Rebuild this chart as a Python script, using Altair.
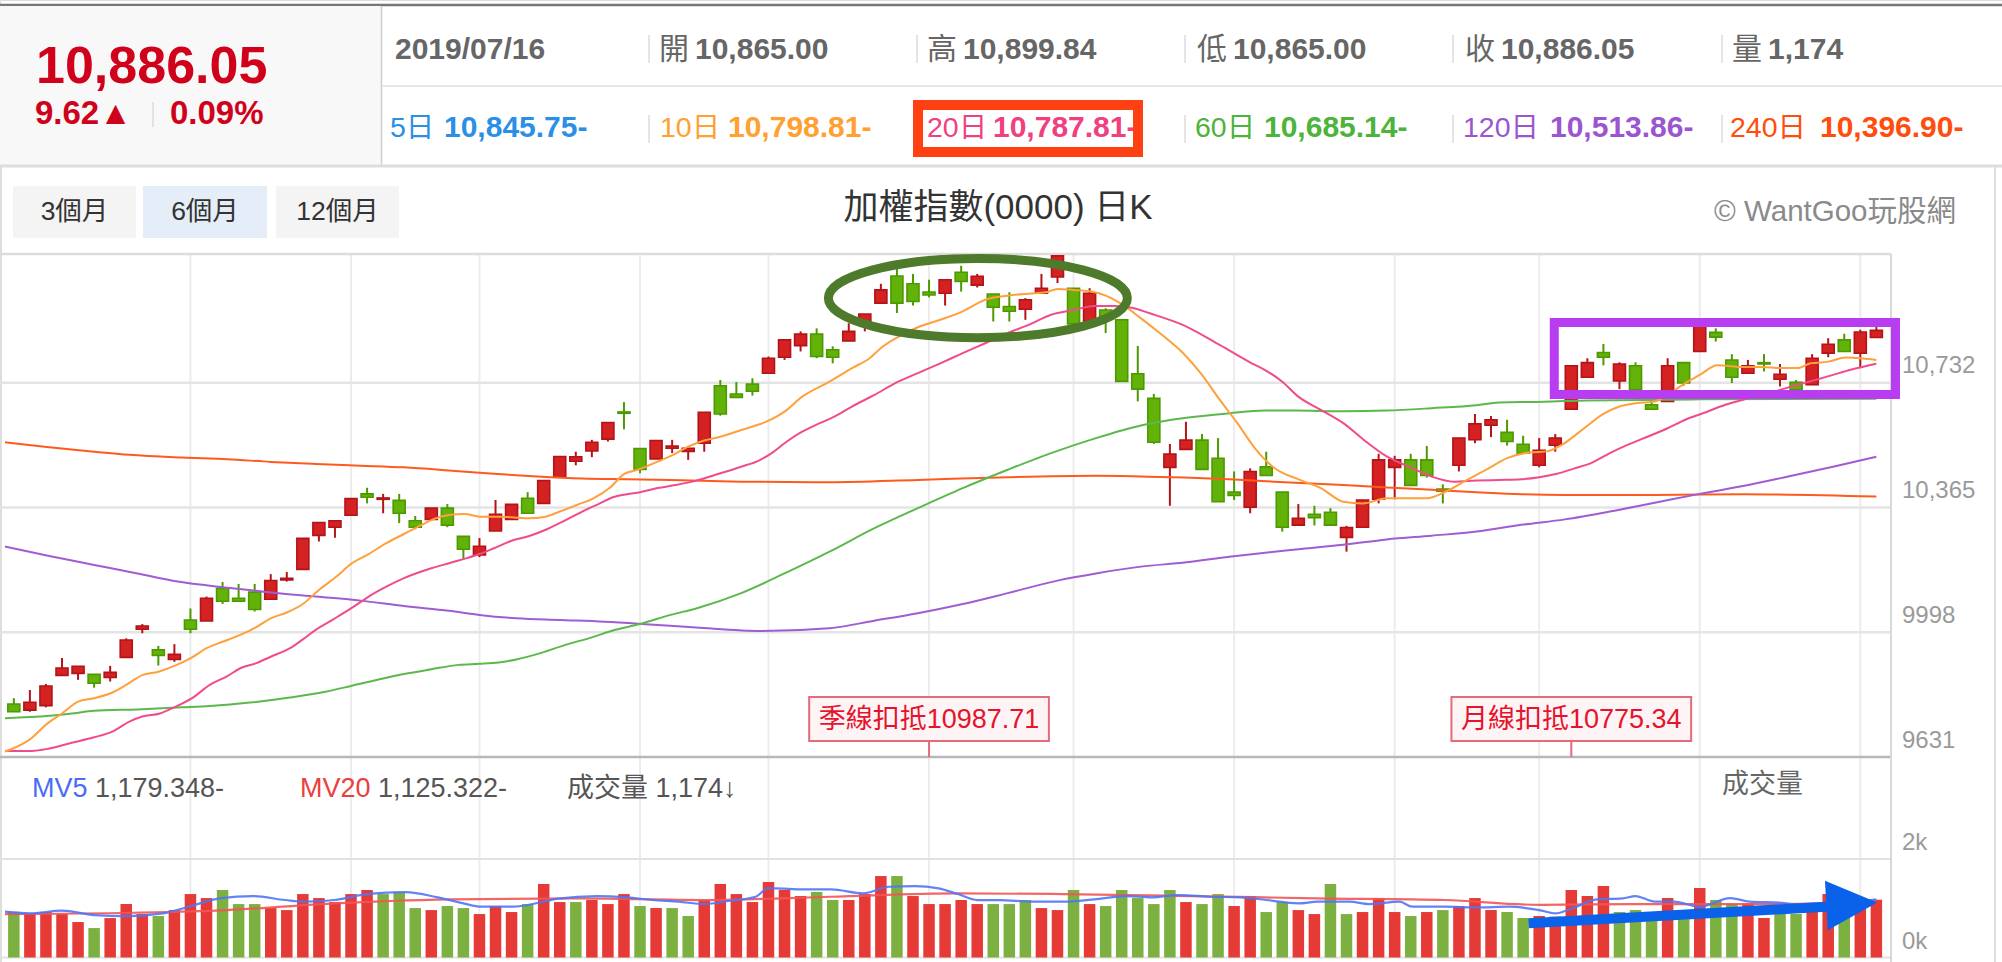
import altair as alt
import pandas as pd

FONT = '"Liberation Sans", "Noto Sans CJK TC", sans-serif'

# ---------------- values ----------------
opens = [9787, 9769, 9782, 9871, 9877, 9874, 9865, 9924, 10007, 9946,
         9918, 10034, 10031, 10127, 10098, 10116, 10095, 10152, 10183, 10283,
         10307, 10342, 10405, 10389, 10386, 10326, 10330, 10363, 10280, 10225,
         10296, 10330, 10392, 10377, 10454, 10501, 10531, 10566, 10646, 10538,
         10508, 10539, 10530, 10554, 10723, 10699, 10728, 10760, 10807, 10841,
         10875, 10829, 10855, 10902, 10966, 11046, 11023, 10999, 10995, 11057,
         11019, 10993, 10956, 10948, 10995, 11043, 11010, 10912, 10946, 10917,
         10758, 10686, 10483, 10536, 10563, 10510, 10410, 10366, 10485, 10410,
         10313, 10345, 10351, 10277, 10307, 10389, 10483, 10505, 10505, 10419,
         10489, 10564, 10607, 10586, 10551, 10489, 10548, 10654, 10748, 10821,
         10737, 10782, 10667, 10677, 10791, 10824, 10880, 10799, 10760, 10791,
         10742, 10733, 10726, 10819, 10858, 10819, 10865.00]
highs = [9804, 9828, 9846, 9922, 9898, 9874, 9899, 9980, 10022, 9958,
         9963, 10068, 10103, 10146, 10140, 10140, 10169, 10175, 10274, 10321,
         10326, 10391, 10423, 10405, 10405, 10340, 10363, 10375, 10280, 10275,
         10387, 10374, 10410, 10444, 10515, 10529, 10564, 10615, 10675, 10538,
         10562, 10564, 10539, 10645, 10740, 10734, 10745, 10809, 10858, 10883,
         10892, 10839, 10907, 10934, 11023, 11069, 11052, 11035, 11035, 11076,
         11052, 10993, 10998, 10981, 11052, 11105, 11010, 11010, 10951, 10917,
         10840, 10699, 10552, 10617, 10581, 10569, 10471, 10480, 10529, 10410,
         10375, 10370, 10363, 10311, 10387, 10523, 10517, 10523, 10546, 10433,
         10569, 10640, 10634, 10623, 10576, 10569, 10581, 10782, 10804, 10846,
         10792, 10792, 10691, 10804, 10791, 10899, 10892, 10816, 10799, 10816,
         10787, 10740, 10816, 10863, 10876, 10888, 10899.84]
lows = [9764, 9764, 9777, 9871, 9858, 9835, 9853, 9924, 9995, 9900,
        9911, 9995, 10031, 10081, 10089, 10059, 10095, 10147, 10183, 10265,
        10276, 10342, 10377, 10348, 10319, 10301, 10330, 10307, 10213, 10219,
        10296, 10330, 10348, 10377, 10454, 10489, 10513, 10559, 10595, 10466,
        10508, 10525, 10505, 10529, 10635, 10689, 10694, 10760, 10799, 10824,
        10804, 10789, 10855, 10883, 10966, 10937, 10959, 10983, 10959, 11000,
        11012, 10912, 10912, 10917, 10995, 11025, 10902, 10912, 10878, 10736,
        10677, 10552, 10370, 10536, 10477, 10382, 10387, 10348, 10459, 10294,
        10313, 10312, 10313, 10235, 10307, 10377, 10389, 10430, 10453, 10377,
        10471, 10554, 10572, 10547, 10525, 10483, 10529, 10654, 10748, 10783,
        10713, 10711, 10654, 10677, 10723, 10824, 10853, 10731, 10760, 10765,
        10721, 10711, 10726, 10807, 10824, 10778, 10865.00]
closes = [9764, 9792, 9840, 9893, 9898, 9848, 9880, 9975, 10016, 9930,
          9933, 10007, 10098, 10089, 10089, 10065, 10150, 10157, 10274, 10321,
          10326, 10391, 10395, 10393, 10348, 10307, 10363, 10313, 10242, 10251,
          10345, 10374, 10348, 10444, 10515, 10514, 10557, 10615, 10642, 10477,
          10562, 10546, 10539, 10645, 10640, 10689, 10707, 10804, 10858, 10875,
          10809, 10807, 10883, 10934, 11005, 10966, 10971, 10990, 11035, 11030,
          11045, 10954, 10942, 10976, 11010, 11105, 10905, 10995, 10927, 10736,
          10713, 10557, 10522, 10563, 10477, 10382, 10400, 10471, 10459, 10307,
          10333, 10335, 10313, 10306, 10387, 10505, 10505, 10430, 10459, 10413,
          10569, 10611, 10623, 10559, 10525, 10533, 10569, 10782, 10791, 10807,
          10787, 10711, 10654, 10782, 10731, 10899, 10866, 10748, 10782, 10787,
          10757, 10711, 10804, 10845, 10824, 10881, 10886.05]

volumes = [930, 882, 923, 882, 720, 598, 801, 1085, 882, 842,
           963, 1288, 1207, 1370, 1085, 1085, 1004, 963, 1288, 1207,
           1126, 1288, 1370, 1288, 1336, 1004, 963, 1045, 1004, 882,
           1045, 923, 1085, 1492, 1126, 1126, 1167, 1085, 1288, 1045,
           1004, 1004, 842, 1167, 1492, 1288, 1126, 1532, 1370, 1248,
           1329, 1167, 1167, 1288, 1654, 1654, 1248, 1085, 1085, 1167,
           1085, 1085, 1085, 1167, 1004, 963, 1370, 1085, 1045, 1370,
           1207, 1085, 1370, 1126, 1085, 1288, 1045, 1248, 923, 1126,
           963, 882, 1492, 882, 923, 1207, 923, 842, 923, 963,
           1045, 1207, 964, 924, 802, 843, 830, 1370, 1249, 1452,
           924, 964, 900, 1208, 900, 1411, 1167, 1086, 1100, 802,
           924, 883, 1032, 1289, 903, 1167, 1174]
# R = red (up), G = green (down), one letter per bar
volume_colors = ("GRRRRGRRRG" "RRRGGGRRRR" "RRRGGGRGGR" "RRGRRGRRRG" "RGGRRRRRRR"
                 "GGRRRGRRRR" "RGGGRRGRGG" "GGGRGGRRGG" "RRGGRRRGRG" "RRRGGRRRRR"
                 "GGGRGRGGRR" "GGRRGRR")

ma10 = [(-0.55, 9647), (1.0, 9683), (2.1, 9730), (3.0, 9759), (4.0, 9794), (5.0, 9804), (6.1, 9820),
        (7.0, 9843), (8.0, 9872), (9.0, 9882), (10.0, 9899), (11.1, 9924), (12.0, 9951), (13.0, 9970),
        (14.1, 9990), (15.1, 10013), (16.0, 10039), (17.0, 10056), (18.0, 10081), (19.0, 10122),
        (20.1, 10162), (21.0, 10199), (22.1, 10228), (23.2, 10260), (24.3, 10287), (25.4, 10314),
        (26.1, 10330), (27.1, 10343), (28.1, 10346), (29.0, 10338), (30.2, 10338), (31.0, 10336),
        (32.1, 10333), (33.1, 10338), (34.0, 10353), (35.1, 10373), (36.1, 10392), (37.1, 10422),
        (38.0, 10463), (39.0, 10478), (40.1, 10500), (41.0, 10518), (42.0, 10544), (43.0, 10562),
        (44.0, 10573), (45.3, 10593), (46.9, 10618), (48.0, 10647), (49.1, 10691), (50.8, 10735),
        (52.2, 10775), (53.3, 10804), (54.1, 10838), (55.2, 10870), (56.3, 10895), (57.7, 10917),
        (59.1, 10942), (60.5, 10976), (61.9, 10988), (63.2, 10994), (64.3, 10998), (65.0, 11008),
        (66.0, 11005), (67.1, 11000), (68.0, 10988), (69.0, 10963), (70.1, 10925), (71.5, 10873),
        (72.8, 10820), (74.0, 10755), (75.1, 10682), (76.2, 10613), (77.3, 10539), (78.4, 10485),
        (80.1, 10446), (81.4, 10422), (82.8, 10382), (84.0, 10377), (85.5, 10392), (87.2, 10392),
        (88.0, 10392), (89.2, 10412), (90.5, 10446), (91.7, 10476), (93.0, 10510), (94.4, 10527),
        (95.5, 10530), (96.4, 10549), (97.8, 10598), (99.0, 10640), (100.0, 10662), (101.1, 10672),
        (102.2, 10677), (103.3, 10706), (104.1, 10731), (105.0, 10755), (106.1, 10783), (107.7, 10778),
        (108.9, 10778), (110.0, 10775), (111.1, 10775), (111.9, 10789), (113.0, 10794), (114.1, 10806),
        (115.0, 10804), (116.0, 10799)]
ma20 = [(-0.55, 9649), (1.1, 9649), (2.2, 9656), (3.6, 9673), (5.0, 9689), (6.1, 9705), (7.2, 9735),
        (8.0, 9750), (9.1, 9759), (10.0, 9777), (11.1, 9804), (12.2, 9843), (13.3, 9869), (14.1, 9892),
        (15.1, 9907), (16.0, 9926), (17.2, 9951), (18.0, 9977), (18.8, 10005), (19.9, 10036),
        (21.0, 10068), (22.1, 10103), (23.2, 10132), (24.3, 10157), (26.0, 10186), (27.1, 10201),
        (28.2, 10216), (29.0, 10228), (29.9, 10245), (31.0, 10267), (32.1, 10281), (33.2, 10301),
        (34.3, 10326), (35.4, 10353), (36.5, 10377), (37.3, 10395), (38.2, 10404), (39.0, 10410),
        (40.1, 10422), (41.2, 10431), (42.5, 10444), (43.9, 10464), (45.3, 10485), (46.4, 10503),
        (47.2, 10525), (48.0, 10554), (49.1, 10588), (50.2, 10613), (51.1, 10632), (52.2, 10662),
        (53.6, 10696), (54.9, 10731), (56.3, 10760), (57.7, 10789), (59.1, 10819), (60.5, 10848),
        (61.9, 10878), (63.2, 10902), (64.6, 10932), (66.0, 10946), (67.3, 10958), (68.5, 10958),
        (69.7, 10952), (70.7, 10937), (72.8, 10902), (75.1, 10843), (77.1, 10789), (77.9, 10770),
        (79.0, 10735), (80.0, 10691), (81.4, 10652), (82.8, 10613), (84.2, 10559), (85.5, 10515),
        (86.9, 10485), (88.3, 10456), (89.7, 10441), (91.1, 10444), (92.5, 10446), (93.9, 10448),
        (95.0, 10454), (96.1, 10464), (97.2, 10480), (98.3, 10497), (99.4, 10525), (100.5, 10549),
        (101.9, 10576), (103.0, 10598), (104.1, 10623), (105.2, 10642), (106.6, 10667), (107.7, 10682),
        (108.9, 10696), (110.0, 10711), (111.1, 10726), (112.2, 10740), (113.3, 10755), (114.4, 10770),
        (116.0, 10788)]
ma60 = [(-0.55, 9745), (2.2, 9752), (3.6, 9759), (5.0, 9767), (7.7, 9771), (10.5, 9777), (12.2, 9781),
        (14.7, 9791), (17.2, 9806), (19.4, 9823), (21.0, 9840), (23.0, 9862), (24.3, 9875), (26.0, 9889),
        (27.7, 9902), (29.0, 9905), (30.2, 9909), (31.3, 9918), (32.9, 9938), (34.3, 9960), (36.0, 9983),
        (37.3, 10003), (39.0, 10022), (40.9, 10049), (42.5, 10068), (45.3, 10113), (48.0, 10171),
        (50.8, 10235), (53.6, 10304), (56.3, 10363), (59.1, 10422), (61.9, 10476), (64.6, 10525),
        (67.4, 10569), (70.2, 10606), (72.9, 10628), (75.7, 10642), (77.9, 10650), (79.8, 10650),
        (82.8, 10648), (85.5, 10650), (88.3, 10657), (91.1, 10666), (92.5, 10674), (95.3, 10676),
        (98.0, 10680), (105.0, 10683), (116.0, 10685)]
ma120 = [(-0.55, 10250), (2.2, 10222), (5.0, 10196), (7.7, 10171), (10.2, 10147), (13.3, 10129),
         (16.0, 10115), (18.8, 10103), (21.6, 10091), (24.3, 10075), (27.1, 10061), (29.0, 10049),
         (31.3, 10039), (34.0, 10034), (36.8, 10029), (39.6, 10021), (42.5, 10012), (46.6, 10002),
         (50.8, 10010), (53.6, 10032), (56.3, 10054), (59.1, 10081), (61.9, 10113), (65.2, 10152),
         (67.4, 10171), (70.2, 10191), (72.9, 10203), (75.7, 10220), (78.5, 10235), (80.0, 10242),
         (82.8, 10255), (85.5, 10271), (88.3, 10282), (91.1, 10294), (93.9, 10314), (96.6, 10330),
         (99.4, 10353), (102.2, 10379), (105.0, 10405), (107.7, 10428), (110.5, 10456), (113.3, 10485),
         (116.0, 10514)]
ma240 = [(-0.55, 10557), (2.2, 10542), (5.0, 10529), (7.2, 10520), (10.5, 10512), (13.3, 10507),
         (16.0, 10499), (18.8, 10493), (21.6, 10488), (24.3, 10483), (27.1, 10474), (29.9, 10464),
         (32.6, 10456), (35.4, 10450), (38.2, 10448), (40.9, 10446), (45.3, 10441), (50.8, 10439),
         (56.3, 10446), (61.9, 10454), (67.4, 10458), (70.2, 10456), (72.9, 10453), (75.7, 10448),
         (78.5, 10441), (82.8, 10431), (85.5, 10424), (88.3, 10417), (91.1, 10410), (93.9, 10404),
         (96.6, 10402), (102.2, 10402), (107.7, 10404), (116.0, 10397)]
mv5 = [(-0.55, 930), (1.0, 896), (3.0, 950), (5.0, 862), (7.0, 842), (9.3, 896), (10.9, 1031),
       (12.9, 1207), (14.9, 1248), (16.9, 1167), (18.1, 1133), (20.0, 1167), (21.6, 1268), (23.2, 1316),
       (24.4, 1329), (26.4, 1221), (28.0, 1099), (29.1, 1031), (31.1, 1031), (32.7, 1112), (33.9, 1194),
       (36.3, 1248), (38.2, 1221), (39.8, 1167), (41.4, 1133), (43.0, 1085), (44.6, 1153), (46.2, 1234),
       (47.0, 1410), (48.9, 1383), (50.9, 1383), (52.9, 1302), (54.5, 1437), (56.1, 1451), (57.6, 1404),
       (58.8, 1288), (60.0, 1167), (61.4, 1167), (63.4, 1133), (65.4, 1133), (67.3, 1180), (69.3, 1248),
       (70.9, 1221), (72.5, 1268), (74.5, 1234), (76.4, 1221), (78.0, 1167), (80.0, 1099), (81.2, 1133),
       (83.2, 1133), (84.4, 1085), (86.3, 1133), (87.1, 1031), (89.1, 1031), (91.1, 1018), (93.1, 1031),
       (95.0, 963), (96.0, 896), (97.0, 991), (98.6, 1180), (100.2, 1201), (101.0, 1248), (102.2, 1133),
       (103.4, 1133), (105.0, 1031), (106.9, 1207), (108.1, 1133), (110.1, 1112), (112.1, 1031),
       (114.1, 1099), (116.0, 1179)]
mv20 = [(-0.55, 882), (7.4, 909), (13.3, 963), (19.2, 1085), (27.2, 1180), (35.1, 1201), (43.0, 1167),
        (50.9, 1234), (58.8, 1302), (65.4, 1288), (73.3, 1248), (81.2, 1201), (89.1, 1167), (95.0, 1070),
        (101.0, 1085), (108.9, 1085), (116.0, 1125)]

price_ticks = [10732, 10365, 9998, 9631]
price_tick_labels = ["10,732", "10,365", "9998", "9631"]
vol_ticks = [2000, 0]
vol_tick_labels = ["2k", "0k"]
grid_idx = [11, 21, 29, 39, 47, 57, 66, 76, 86, 95, 105, 115]
deduct_idx = [57, 97]
deduct_labels = ["季線扣抵10987.71", "月線扣抵10775.34"]

last_price = "10,886.05"
change_txt = "9.62▲"
change_pct = "0.09%"
row1_labels = ["開", "高", "低", "收", "量"]
row1_values = ["10,865.00", "10,899.84", "10,865.00", "10,886.05", "1,174"]
date_txt = "2019/07/16"
row2_labels = ["5日", "10日", "20日", "60日", "120日", "240日"]
row2_values = ["10,845.75-", "10,798.81-", "10,787.81-", "10,685.14-", "10,513.86-", "10,396.90-"]
buttons = ["3個月", "6個月", "12個月"]
title_txt = "加權指數(0000) 日K"
brand_txt = "© WantGoo玩股網"
vol_legend = [("MV5", "1,179.348-"), ("MV20", "1,125.322-")]
vol_now = "成交量 1,174↓"
vol_title = "成交量"

# annotation geometry in data units
ellipse_center = (60.04, 10981)
box_range = (95.94, 117.19, 10909, 10697)
arrow_shaft = (94.34, 694, 113.4, 1040)
arrow_head = (114.47, 1086)

# ---------------- scales ----------------
def xq(f):
    return alt.X(f + ':Q', scale=alt.Scale(domain=[-0.55, 116.6], range=[0, 1891], nice=False, zero=False), axis=None)

def pq(f):
    return alt.Y(f + ':Q', scale=alt.Scale(domain=[9631, 11110.6], range=[757, 254], nice=False, zero=False), axis=None)

def vq(f):
    return alt.Y(f + ':Q', scale=alt.Scale(domain=[0, 2000], range=[957.5, 859], nice=False, zero=False), axis=None)

one = pd.DataFrame({'k': [0]})

def txt(s, x, y, size, color, weight='normal', align='left'):
    return alt.Chart(pd.DataFrame({'t': [s]})).mark_text(
        font=FONT, fontSize=size, color=color, fontWeight=weight, align=align, baseline='middle'
    ).encode(x=alt.value(x), y=alt.value(y), text='t:N')

def seg(x1, y1, x2, y2, color, sw):
    return alt.Chart(one).mark_rule(color=color, strokeWidth=sw).encode(
        x=alt.value(x1), y=alt.value(y1), x2=alt.value(x2), y2=alt.value(y2))

def box(x1, y1, x2, y2, fill, stroke=None, sw=0, fill_op=1):
    kw = dict(fill=fill, fillOpacity=fill_op)
    if stroke:
        kw.update(stroke=stroke, strokeWidth=sw)
    return alt.Chart(one).mark_rect(**kw).encode(
        x=alt.value(x1), x2=alt.value(x2), y=alt.value(y1), y2=alt.value(y2))

layers = []

# ---------------- header ----------------
layers.append(seg(0, 5, 2002, 5, '#777777', 2.5))
layers.append(box(0, 6, 381, 166, '#f8f8f8'))
layers.append(seg(381.5, 6, 381.5, 166, '#cfcfcf', 1.5))
layers.append(seg(382, 86, 2002, 86, '#e6e6e6', 2))
layers.append(seg(0, 166, 2002, 166, '#dddddd', 3))
layers.append(txt(last_price, 36, 67, 52, '#d0021b', 'bold'))
layers.append(txt(change_txt, 35, 114, 33, '#d0021b', 'bold'))
layers.append(seg(153, 102, 153, 127, '#dddddd', 1.5))
layers.append(txt(change_pct, 170, 114, 33, '#d0021b', 'bold'))

col_x = [395, 660, 928, 1198, 1466, 1733]
for sx in [649, 917, 1185, 1453, 1722]:
    layers.append(seg(sx, 35, sx, 63, '#dddddd', 1.5))
    layers.append(seg(sx, 115, sx, 143, '#dddddd', 1.5))
layers.append(txt(date_txt, col_x[0], 50, 30, '#666666', 'bold'))
for k, (lab, val) in enumerate(zip(row1_labels, row1_values)):
    layers.append(txt(lab, col_x[k + 1] - 1, 50, 30, '#666666'))
    layers.append(txt(val, col_x[k + 1] + 35, 50, 30, '#666666', 'bold'))

row2_colors = ['#2b8fe6', '#ffa030', '#f0407f', '#4cb43a', '#9b55d0', '#ff4d0d']
row2_lab_x = [390, 660, 927, 1195, 1463, 1730]
row2_val_x = [444, 728, 993, 1264, 1550, 1820]
for lab, val, c, lx, vx in zip(row2_labels, row2_values, row2_colors, row2_lab_x, row2_val_x):
    layers.append(txt(lab, lx, 128, 28.5, c))
    layers.append(txt(val, vx, 128, 30, c, 'bold'))
layers.append(box(918, 105, 1138, 152, 'white', '#ff4012', 10, 0))

# ---------------- toolbar & title ----------------
layers.append(seg(1, 166, 1, 962, '#dddddd', 2))
layers.append(seg(1995, 166, 1995, 962, '#dddddd', 2))
btn_x = [(13, 136), (143, 267), (276, 399)]
btn_bg = ['#f4f4f4', '#e5eef8', '#f4f4f4']
for (bx1, bx2), bg, lab in zip(btn_x, btn_bg, buttons):
    layers.append(box(bx1, 186, bx2, 238, bg))
    layers.append(txt(lab, (bx1 + bx2) / 2, 212, 26.5, '#333333', align='center'))
layers.append(txt(title_txt, 998, 208, 35, '#333333', align='center'))
layers.append(txt(brand_txt, 1956, 212, 29.5, '#8a8a8a', align='right'))

# ---------------- grid ----------------
layers.append(alt.Chart(pd.DataFrame({'i': grid_idx})).mark_rule(color='#ececec', strokeWidth=2).encode(
    x=xq('i'), y=alt.value(254), y2=alt.value(957)))
pt = pd.DataFrame({'v': price_ticks, 'lab': price_tick_labels})
layers.append(alt.Chart(pt.iloc[:3]).mark_rule(color='#e4e4e4', strokeWidth=2.5).encode(
    y=pq('v'), x=alt.value(0), x2=alt.value(1891)))
layers.append(alt.Chart(pt.iloc[3:]).mark_rule(color='#b8b8b8', strokeWidth=2.5).encode(
    y=pq('v'), x=alt.value(0), x2=alt.value(1891)))
layers.append(alt.Chart(pt).mark_text(font=FONT, fontSize=24, color='#9a9a9a', align='left',
                                      baseline='middle', dy=-16.5).encode(
    x=alt.value(1902), y=pq('v'), text='lab:N'))
vt = pd.DataFrame({'v': vol_ticks, 'lab': vol_tick_labels})
layers.append(alt.Chart(vt).mark_rule(color='#e2e2e2', strokeWidth=2).encode(
    y=vq('v'), x=alt.value(0), x2=alt.value(1891)))
layers.append(alt.Chart(vt).mark_text(font=FONT, fontSize=24, color='#9a9a9a', align='left',
                                      baseline='middle', dy=-16).encode(
    x=alt.value(1902), y=vq('v'), text='lab:N'))
layers.append(seg(0, 254, 1891, 254, '#dcdcdc', 2.5))
layers.append(seg(1891, 254, 1891, 962, '#d8d8d8', 2))

# ---------------- candles ----------------
cd = pd.DataFrame({'i': list(range(len(opens))), 'open': opens, 'high': highs, 'low': lows, 'close': closes})
cd['dir'] = ['up' if c >= o else 'down' for o, c in zip(opens, closes)]
up = alt.datum.dir == 'up'
layers.append(alt.Chart(cd).mark_rule(strokeWidth=2).encode(
    x=xq('i'), y=pq('low'), y2='high:Q',
    color=alt.condition(up, alt.value('#b3141a'), alt.value('#4c9a00'))))
layers.append(alt.Chart(cd).mark_bar(size=12, strokeWidth=1.6).encode(
    x=xq('i'), y=pq('open'), y2='close:Q',
    fill=alt.condition(up, alt.value('#d42121'), alt.value('#62b20a')),
    stroke=alt.condition(up, alt.value('#b3141a'), alt.value('#4c9a00'))))

# ---------------- moving averages ----------------
for series, color in [(ma240, '#ff5a1e'), (ma120, '#a05cd2'), (ma60, '#5cb84c'),
                      (ma20, '#f04b8c'), (ma10, '#ffa03c')]:
    df = pd.DataFrame(series, columns=['i', 'v'])
    layers.append(alt.Chart(df).mark_line(color=color, strokeWidth=2, interpolate='monotone').encode(
        x=xq('i'), y=pq('v')))

# ---------------- volume ----------------
vd = pd.DataFrame({'i': list(range(len(volumes))), 'vol': volumes,
                   'dir': ['up' if c == 'R' else 'down' for c in volume_colors]})
layers.append(alt.Chart(vd).mark_bar(size=11.5).encode(
    x=xq('i'), y=vq('vol'),
    color=alt.condition(up, alt.value('#e53a35'), alt.value('#7cb142'))))
for series, color in [(mv20, '#f25555'), (mv5, '#5075f5')]:
    df = pd.DataFrame(series, columns=['i', 'v'])
    layers.append(alt.Chart(df).mark_line(color=color, strokeWidth=2.2, opacity=0.9,
                                          interpolate='monotone').encode(x=xq('i'), y=vq('v')))

layers.append(txt(vol_legend[0][0], 32, 789, 27, '#4a6cf5'))
layers.append(txt(vol_legend[0][1], 95, 789, 27, '#555555'))
layers.append(txt(vol_legend[1][0], 300, 789, 27, '#e94040'))
layers.append(txt(vol_legend[1][1], 378, 789, 27, '#555555'))
layers.append(txt(vol_now, 567, 789, 27, '#555555'))
layers.append(txt(vol_title, 1722, 785, 27, '#666666'))

# ---------------- deduction labels ----------------
dd = pd.DataFrame({'i': deduct_idx, 'lab': deduct_labels})
layers.append(alt.Chart(dd).mark_rule(color='#e36b7a', strokeWidth=2).encode(
    x=xq('i'), y=alt.value(741), y2=alt.value(757)))
layers.append(alt.Chart(dd).transform_calculate(a='datum.i - 7.465', b='datum.i + 7.465').mark_rect(
    fill='#fff4f5', stroke='#e36b7a', strokeWidth=2).encode(
    x=xq('a'), x2='b:Q', y=alt.value(697), y2=alt.value(741)))
layers.append(alt.Chart(dd).mark_text(font=FONT, fontSize=27, color='#e5132b', align='center',
                                      baseline='middle').encode(
    x=xq('i'), y=alt.value(720), text='lab:N'))

# ---------------- annotations ----------------
k, r = 0.5523, 0.265
kr = k * r
ell_path = (f"M 1 0 C 1 {kr:.4f} {k} {r} 0 {r} C {-k} {r} -1 {kr:.4f} -1 0 "
            f"C -1 {-kr:.4f} {-k} {-r} 0 {-r} C {k} {-r} 1 {-kr:.4f} 1 0 Z")
ed = pd.DataFrame({'i': [ellipse_center[0]], 'v': [ellipse_center[1]]})
layers.append(alt.Chart(ed).mark_point(shape=ell_path, size=299 * 299, filled=False, opacity=1,
                                       stroke='#4e7a2c', strokeWidth=9).encode(x=xq('i'), y=pq('v')))
bd = pd.DataFrame({'a': [box_range[0]], 'b': [box_range[1]], 'p': [box_range[2]], 'q': [box_range[3]]})
layers.append(alt.Chart(bd).mark_rect(fill='white', fillOpacity=0, stroke='#b83cf0', strokeWidth=9).encode(
    x=xq('a'), x2='b:Q', y=pq('p'), y2='q:Q'))
ad = pd.DataFrame({'a': [arrow_shaft[0]], 'p': [arrow_shaft[1]], 'b': [arrow_shaft[2]], 'q': [arrow_shaft[3]]})
layers.append(alt.Chart(ad).mark_rule(color='#0a62ea', strokeWidth=10, strokeCap='butt').encode(
    x=xq('a'), y=vq('p'), x2='b:Q', y2='q:Q'))
hd = pd.DataFrame({'i': [arrow_head[0]], 'v': [arrow_head[1]]})
layers.append(alt.Chart(hd).mark_point(shape='M -1 -0.97 L 1 0 L -1 0.97 Z', size=2601, filled=True,
                                       opacity=1, fill='#0a62ea', strokeWidth=0, angle=356.8).encode(
    x=xq('i'), y=vq('v')))

chart = alt.layer(*layers).resolve_scale(y='independent').properties(
    width=2002, height=962, autosize=alt.AutoSizeParams(type='none'), padding=0
).configure_view(stroke=None).configure(background='white')

chart.save("out.html", embed_options={"renderer": "svg", "actions": False})
